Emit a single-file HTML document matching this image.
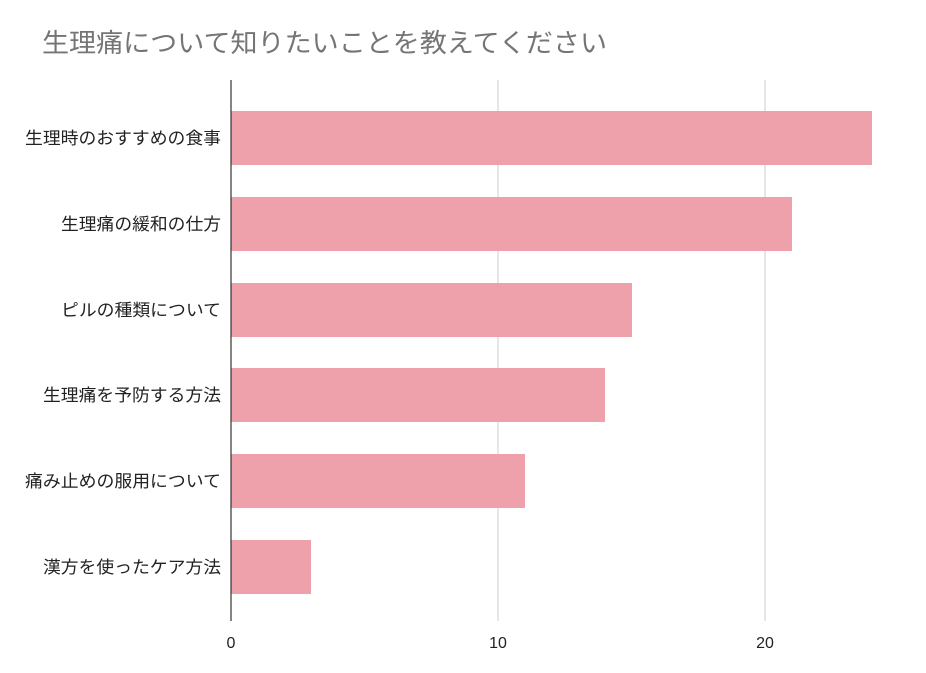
<!DOCTYPE html>
<html><head><meta charset="utf-8"><style>
body{margin:0;background:#fff;width:926px;height:668px;overflow:hidden;font-family:"Liberation Sans","Noto Sans CJK JP",sans-serif;}
</style></head><body>
<svg width="926" height="668" xmlns="http://www.w3.org/2000/svg" style="font-family:'Liberation Sans','Noto Sans CJK JP',sans-serif">
<rect width="926" height="668" fill="#fff"/>
<text x="42" y="52" font-size="26" fill="#757575" textLength="565" lengthAdjust="spacingAndGlyphs">生理痛について知りたいことを教えてください</text>
<line x1="498" y1="80" x2="498" y2="621" stroke="#cccccc" stroke-width="1"/>
<line x1="765" y1="80" x2="765" y2="621" stroke="#cccccc" stroke-width="1"/>
<g fill="#eea0ab">
<rect x="231" y="111" width="641" height="54"/>
<rect x="231" y="197" width="561" height="54"/>
<rect x="231" y="283" width="401" height="54"/>
<rect x="231" y="368" width="374" height="54"/>
<rect x="231" y="454" width="294" height="54"/>
<rect x="231" y="540" width="80" height="54"/>
</g>
<line x1="231" y1="80" x2="231" y2="621" stroke="#333" stroke-width="1.2"/>
<g font-size="17" fill="#222" text-anchor="end" lengthAdjust="spacingAndGlyphs">
<text x="221" y="144" textLength="196" lengthAdjust="spacingAndGlyphs">生理時のおすすめの食事</text>
<text x="221" y="230" textLength="160" lengthAdjust="spacingAndGlyphs">生理痛の緩和の仕方</text>
<text x="221" y="316" textLength="160" lengthAdjust="spacingAndGlyphs">ピルの種類について</text>
<text x="221" y="401" textLength="178" lengthAdjust="spacingAndGlyphs">生理痛を予防する方法</text>
<text x="221" y="487" textLength="196" lengthAdjust="spacingAndGlyphs">痛み止めの服用について</text>
<text x="221" y="573" textLength="178" lengthAdjust="spacingAndGlyphs">漢方を使ったケア方法</text>
</g>
<g font-size="16" fill="#222" text-anchor="middle">
<text x="231" y="648">0</text>
<text x="498" y="648">10</text>
<text x="765" y="648">20</text>
</g>
</svg>
</body></html>
